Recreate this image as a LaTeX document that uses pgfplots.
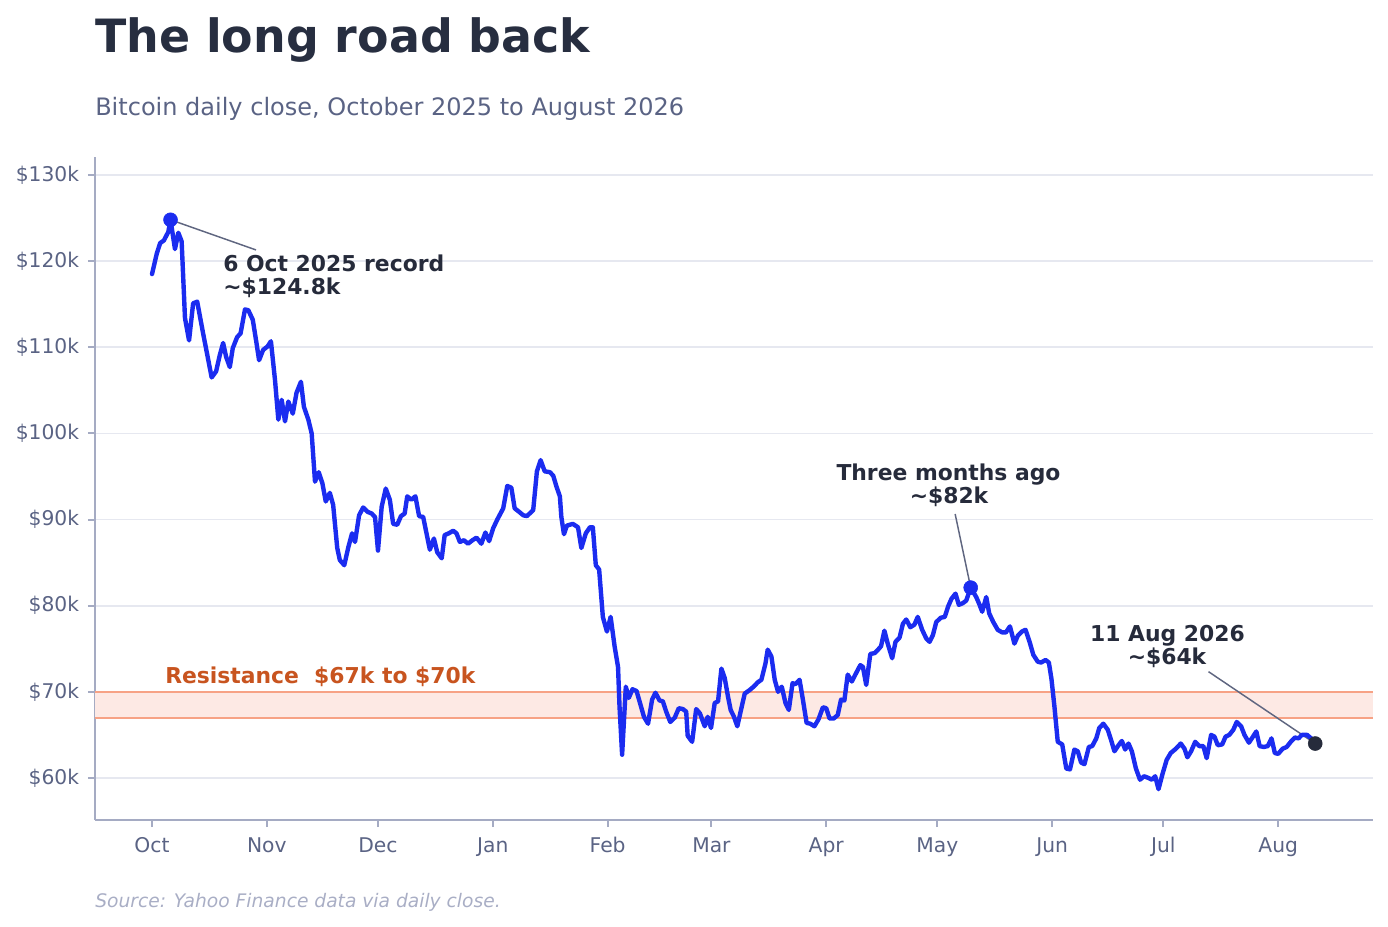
\documentclass[border=0pt]{standalone}
\usepackage{pgfplots}
\pgfplotsset{compat=1.18}
\usepackage{fontspec}
\setmainfont{DejaVu Sans}
\definecolor{btc}{HTML}{1B2CF0}
\definecolor{titlec}{HTML}{272E40}
\definecolor{subc}{HTML}{5A6384}
\definecolor{spine}{HTML}{A5ABC3}
\definecolor{gridc}{HTML}{E6E8F0}
\definecolor{bandline}{HTML}{F7A285}
\definecolor{bandfill}{HTML}{FDE9E4}
\definecolor{resc}{HTML}{C8541F}
\definecolor{annc}{HTML}{262B3B}
\definecolor{connc}{HTML}{5F6680}
\definecolor{srcc}{HTML}{A9AEC5}
\pgfplotstableread{
day val
0 118.5
1.3 120.9
2.2 122.1
3.2 122.4
4.4 123.4
5 124.8
6.2 121.4
7.1 123.3
8 122.3
8.9 113.4
10 110.8
11.1 115.1
12.2 115.3
13.8 111.6
15.2 108.5
16.1 106.5
17.3 107.2
18.3 109.1
19.2 110.5
20 108.9
21 107.7
21.8 109.9
23 111.2
23.9 111.6
25.1 114.4
26 114.3
27.2 113.2
28.2 110.5
28.9 108.5
30 109.7
31.2 110.1
32.1 110.7
33.2 106.2
34.1 101.6
35 103.9
35.9 101.4
36.8 103.7
38 102.3
39 104.7
40.2 106.0
41 103.1
42.2 101.6
43.1 100.0
44 94.4
45 95.5
46 94.2
46.9 92.1
48 93.1
48.9 91.7
50 86.7
50.7 85.3
51.9 84.7
53 86.8
54 88.4
54.8 87.4
55.9 90.5
57 91.4
58.2 90.9
59.3 90.7
60.2 90.3
61 86.4
62 91.5
63.1 93.6
64.2 92.3
65.1 89.5
66.2 89.4
67.2 90.4
68.2 90.7
68.9 92.7
70 92.3
71.1 92.7
72.1 90.4
73.2 90.3
74.1 88.4
75 86.5
76.1 87.8
77 86.2
78.2 85.5
79 88.2
80.1 88.4
81.3 88.7
82.2 88.4
83.1 87.4
84.2 87.6
85.3 87.2
86.5 87.6
87.6 87.9
88.9 87.2
90 88.5
91 87.5
92.1 89.0
93.2 90.0
94.8 91.3
95.9 93.9
97 93.7
97.9 91.3
99.1 90.9
100.2 90.5
101.2 90.4
102.9 91.1
103.9 95.6
104.9 96.9
106 95.6
107.4 95.5
108.3 95.1
109.2 93.8
110.1 92.7
110.5 90.3
111.2 88.3
112 89.3
113.6 89.5
115 89.1
115.9 86.7
117.1 88.4
118.2 89.1
119 89.1
119.8 84.7
120.7 84.2
121.7 78.7
122.8 77.0
123.8 78.7
124.9 75.2
125.8 72.9
126.2 68.3
126.9 62.7
127.9 70.6
128.7 69.3
129.7 70.3
130.8 70.1
131.6 68.9
132.8 67.1
133.9 66.3
135 69.1
135.9 69.9
137 69.0
137.9 68.9
138.8 67.7
139.9 66.5
141.1 67.0
142.2 68.1
143.3 68.0
144.2 67.7
144.6 64.9
145.8 64.2
146.9 68.0
147.9 67.5
149.2 66.0
150 67.1
150.9 65.8
151.9 68.7
152.8 68.9
153.7 72.7
154.6 71.6
155.5 69.4
156.2 67.9
157.1 67.1
158 66.0
159.1 68.1
160 69.8
161.3 70.2
162.4 70.6
163.5 71.1
164.5 71.4
165.6 73.3
166.2 74.9
167.2 74.1
168.1 71.4
169 70.0
170 70.6
171 68.7
171.9 67.9
172.9 71.0
173.7 70.9
174.8 71.4
175.7 69.1
176.7 66.4
177.7 66.3
178.8 66.0
179.9 66.8
181.1 68.2
182 68.1
182.9 66.9
184 66.9
185.1 67.3
186 69.1
186.9 69.0
187.8 72.0
188.9 71.2
190.1 72.2
191.2 73.1
191.9 72.9
192.8 70.8
193.9 74.4
195.1 74.5
196 74.9
196.8 75.3
197.7 77.1
198.6 75.6
199.8 73.9
200.7 75.8
201.8 76.3
202.7 77.9
203.6 78.4
204.7 77.5
205.8 77.8
206.7 78.7
207.9 77.2
209 76.2
209.9 75.8
210.8 76.6
211.7 78.1
212.9 78.6
214 78.7
214.9 79.9
215.8 80.8
216.9 81.4
217.8 80.1
218.9 80.3
219.8 80.6
221 82.1
222.5 81.0
223.4 80.1
224.1 79.3
225.2 81.0
226 79.1
227.1 78.1
228.3 77.2
229.5 76.9
230.5 76.9
231.6 77.6
232.8 75.6
233.7 76.5
234.8 77.0
235.8 77.2
236.9 75.8
237.9 74.3
239.1 73.5
240 73.4
241.2 73.7
242.1 73.4
242.8 71.5
243.6 68.3
244.5 64.2
245.7 63.9
246.8 61.1
247.8 61.0
249 63.3
249.9 63.1
250.8 61.8
251.7 61.6
252.9 63.6
253.8 63.7
254.9 64.6
255.7 65.8
256.8 66.3
258 65.6
258.9 64.4
259.8 63.1
260.9 63.8
261.8 64.3
262.7 63.3
263.6 64.0
264.5 63.1
265.6 61.1
266.7 59.8
267.8 60.2
269 60.0
269.9 59.8
270.8 60.2
271.7 58.7
272.8 60.5
273.9 62.1
275 62.9
276.4 63.4
277.7 64.0
278.7 63.4
279.5 62.4
280.5 63.1
281.6 64.2
282.7 63.7
283.8 63.7
284.7 62.3
285.9 65.0
286.8 64.8
287.7 63.8
288.9 63.9
289.8 64.8
290.8 65.0
291.9 65.6
292.8 66.5
294 66.0
294.9 65.0
296.1 64.1
297.2 64.8
298.1 65.4
299 63.7
300.1 63.6
301.2 63.7
302.2 64.6
303.1 62.9
304 62.8
305.2 63.4
306.3 63.6
307.4 64.2
308.5 64.7
309.5 64.6
310.4 65.0
311.8 65.0
312.9 64.6
314 64.0
}\btcdata
\begin{document}
\begin{tikzpicture}[x=0.75pt,y=-0.75pt]
\path[use as bounding box] (0,0) rectangle (1388,926);
\begin{axis}[
  at={(71.25pt,-615pt)}, anchor=south west,
  scale only axis, width=958.5pt, height=497.25pt,
  xmin=-15.39, xmax=329.6, ymin=55.12, ymax=132.09,
  axis x line*=bottom, axis y line*=left,
  axis line style={-, draw=spine, line width=1.4pt},
  tick align=outside, major tick length=5.25pt,
  tick style={draw=spine, line width=1.4pt},
  ytick={60,70,80,90,100,110,120,130},
  yticklabels={\$60k,\$70k,\$80k,\$90k,\$100k,\$110k,\$120k,\$130k},
  xtick={0,31,61,92,123,151,182,212,243,273,304},
  xticklabels={Oct,Nov,Dec,Jan,Feb,Mar,Apr,May,Jun,Jul,Aug},
  ticklabel style={font=\fontsize{15.2}{18}\selectfont, text=subc, inner sep=0pt},
  yticklabel style={xshift=-6.5pt},
  xticklabel style={anchor=base, yshift=-18.75pt},
  ymajorgrids, grid style={draw=gridc, line width=1.2pt},
  clip=false,
]
\addplot[draw=none, fill=bandfill] coordinates {(-15.39,67) (329.6,67) (329.6,70) (-15.39,70)} -- cycle;
\addplot[draw=bandline, line width=1.5pt] coordinates {(-15.39,67) (329.6,67)};
\addplot[draw=bandline, line width=1.5pt] coordinates {(-15.39,70) (329.6,70)};
\addplot[draw=connc, line width=1.1pt] coordinates {(28.08,121.3) (5,124.8)};
\addplot[draw=connc, line width=1.1pt] coordinates {(216.8,90.65) (221,82.1)};
\addplot[draw=connc, line width=1.1pt] coordinates {(285.2,72.34) (314,64)};
\addplot[btc, line width=3.3pt, line join=round, line cap=round] table[x=day, y=val] {\btcdata};
\addplot[only marks, mark=*, mark size=5.25pt, color=btc] coordinates {(5,124.8) (221,82.1)};
\addplot[only marks, mark=*, mark size=5.25pt, color=annc] coordinates {(314,64)};
\end{axis}
\node[anchor=base west, inner sep=0pt, text=titlec, font=\fontsize{34.4}{40}\selectfont\bfseries] at (95,52) {The long road back};
\node[anchor=base west, inner sep=0pt, text=subc, font=\fontsize{18}{22}\selectfont] at (95,115) {Bitcoin daily close, October 2025 to August 2026};
\node[anchor=base west, inner sep=0pt, text=srcc, font=\fontsize{14}{17}\selectfont\itshape] at (95,907) {Source: Yahoo Finance data via daily close.};
\node[anchor=base west, inner sep=0pt, text=resc, font=\fontsize{16.4}{20}\selectfont\bfseries] at (165,683.3) {Resistance\ \ \$67k to \$70k};
\node[anchor=base west, inner sep=0pt, text=annc, font=\fontsize{16.4}{20}\selectfont\bfseries] at (223,271.7) {6 Oct 2025 record};
\node[anchor=base west, inner sep=0pt, text=annc, font=\fontsize{16.4}{20}\selectfont\bfseries] at (223,294.3) {\textasciitilde\$124.8k};
\node[anchor=base, inner sep=0pt, text=annc, font=\fontsize{16.4}{20}\selectfont\bfseries] at (948.5,480) {Three months ago};
\node[anchor=base, inner sep=0pt, text=annc, font=\fontsize{16.4}{20}\selectfont\bfseries] at (949,503) {\textasciitilde\$82k};
\node[anchor=base, inner sep=0pt, text=annc, font=\fontsize{16.4}{20}\selectfont\bfseries] at (1167.5,641) {11 Aug 2026};
\node[anchor=base, inner sep=0pt, text=annc, font=\fontsize{16.4}{20}\selectfont\bfseries] at (1167,664) {\textasciitilde\$64k};
\end{tikzpicture}
\end{document}
